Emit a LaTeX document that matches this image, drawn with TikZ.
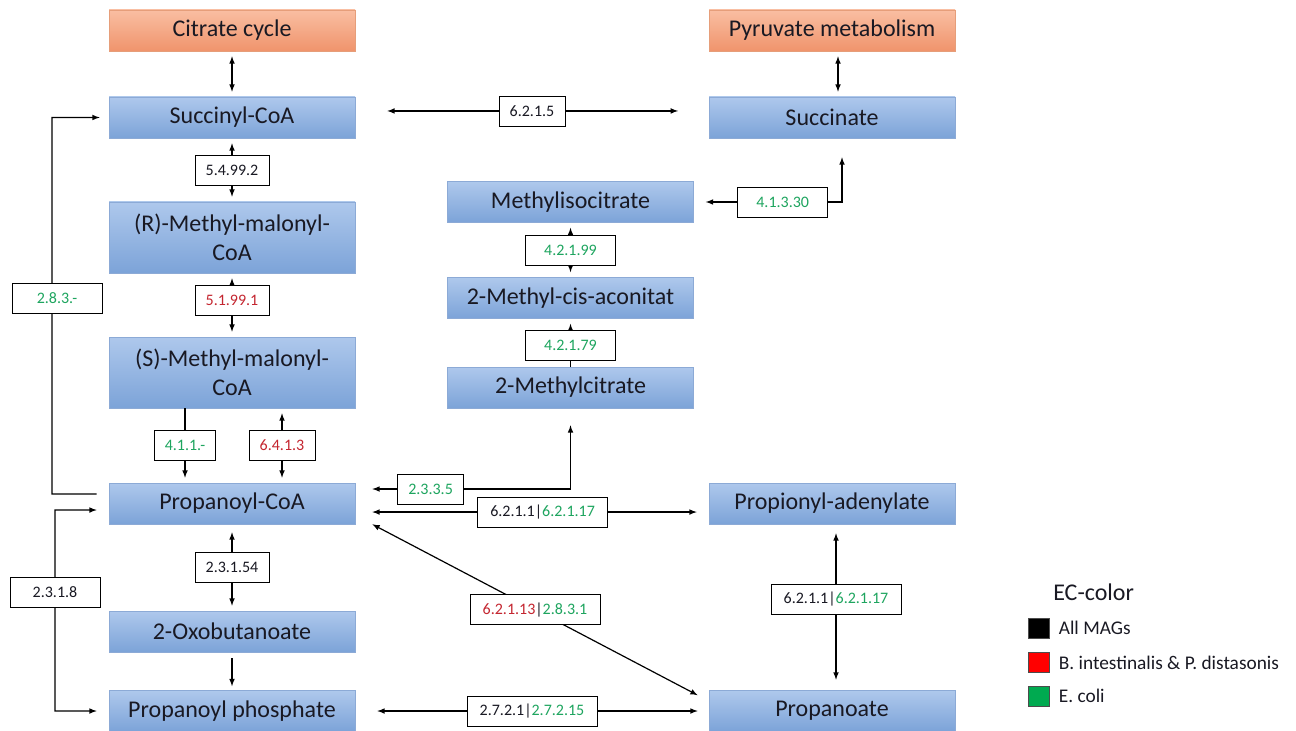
\documentclass[tikz,border=0pt]{standalone}
\usepackage{fontspec}
\setmainfont{Carlito}
\usepackage{tikz}
\usetikzlibrary{arrows,%
                shapes,positioning}

\definecolor{boxtop}{RGB}{174,200,236}
\definecolor{boxbot}{RGB}{124,163,216}
\definecolor{boxline}{RGB}{140,170,214}
\definecolor{waytop}{RGB}{249,190,162}
\definecolor{waybot}{RGB}{240,148,108}
\definecolor{wayline}{RGB}{230,158,122}
\definecolor{ecgreen}{RGB}{30,165,95}
\definecolor{ecred}{RGB}{196,38,48}
\definecolor{leggreen}{RGB}{0,170,80}
\definecolor{txt}{RGB}{25,25,35}

\begin{document}
\begin{tikzpicture}[x=0.75pt,y=-0.75pt,>=latex,
  metab/.style={draw=boxline, top color=boxtop, bottom color=boxbot, text=txt,
    minimum width=184.5pt, minimum height=30.75pt, inner sep=0pt,
    font=\fontsize{18}{22}\selectfont, align=center},
  tallbox/.style={minimum height=53.25pt},
  pway/.style={metab, draw=wayline, top color=waytop, bottom color=waybot},
  ec/.style={draw, fill=white, line width=0.6pt, text=txt, minimum height=22.5pt,
    inner xsep=8pt, inner ysep=0pt, font=\fontsize{12}{14}\selectfont},
  ecw/.style={ec, minimum width=67.5pt},
  ecl/.style={ec, minimum width=97.5pt},
  conn/.style={line width=0.9pt, shorten <=3.75pt, shorten >=3.75pt},
  legsq/.style={draw=black!70, line width=0.4pt, minimum width=15.75pt,
    minimum height=15pt, inner sep=0pt},
  legtxt/.style={inner sep=0pt, anchor=west, text=txt,
    font=\fontsize{14.5}{17}\selectfont},
  ]
\useasboundingbox (0,0) rectangle (1296,731);

% pathways and metabolites
\node[pway] (cit) at (232,30.5) {Citrate cycle};
\node[metab] (succ) at (232,117.5) {Succinyl-CoA};
\node[metab,tallbox] (rmm) at (232,237.5) {(R)-Methyl-malonyl-\\CoA};
\node[metab,tallbox] (smm) at (232,372.5) {(S)-Methyl-malonyl-\\CoA};
\node[metab] (pcoa) at (232,503.5) {Propanoyl-CoA};
\node[metab] (oxo) at (232,631.5) {2-Oxobutanoate};
\node[metab] (pphos) at (232,711) {Propanoyl phosphate};

\node[pway] (pyr) at (832,30.5) {Pyruvate metabolism};
\node[metab] (succi) at (832,117.5) {Succinate};
\node[metab] (misoc) at (570.5,202) {Methylisocitrate};
\node[metab] (acon) at (570.5,298) {2-Methyl-cis-aconitat};
\node[metab] (mcit) at (570.5,387.5) {2-Methylcitrate};
\node[metab] (padl) at (832,503.5) {Propionyl-adenylate};
\node[metab] (prop) at (832,711) {Propanoate};

% reactions
\draw[conn,<->] (cit) -- (succ);
\draw[conn,<->] ([xshift=4.5pt]pyr.south) -- ([xshift=4.5pt]succi.north);
\draw[conn,<->,shorten <=24pt,shorten >=23pt] ([yshift=4.9pt]succ.east)
  -- node[ec]{6.2.1.5} ([yshift=4.9pt]succi.west);
\draw[conn,<->] (succ) -- node[ec]{5.4.99.2} (rmm);
\draw[conn,<->] (rmm) -- node[ec,pos=0.42]{\textcolor{ecred}{5.1.99.1}} (smm);
\draw[conn,->,shorten <=0pt] (185,0 |- smm.south)
  -- node[ec]{\textcolor{ecgreen}{4.1.1.-}} (185,0 |- pcoa.north);
\draw[conn,<->] (282,0 |- smm.south)
  -- node[ec]{\textcolor{ecred}{6.4.1.3}} (282,0 |- pcoa.north);
\draw[conn,<->,shorten <=6pt] (pcoa) -- node[ec]{2.3.1.54} (oxo);
\draw[conn,->,shorten <=4.5pt,shorten >=3pt] (oxo) -- (pphos);

\draw[conn,<->,shorten <=9pt,shorten >=9pt] ([yshift=-4.9pt]pcoa.west) -- (55,510)
  -- node[ecw,pos=0.41]{2.3.1.8} (55,0 |- pphos.west) -- (pphos.west);
\draw[conn,->,shorten <=9pt,shorten >=6.75pt] ([yshift=7.1pt]pcoa.west) -- (52,494)
  -- node[ecw,pos=0.52,xshift=3.75pt]{\textcolor{ecgreen}{2.8.3.-}} (52,0 |- succ.west)
  -- (succ.west);

\draw[conn,<->,shorten <=9pt,shorten >=14.25pt] (misoc.east)
  -- node[ecw,pos=0.6]{\textcolor{ecgreen}{4.1.3.30}} (842,0 |- misoc.east)
  -- (842,0 |- succi.south);
\draw[conn,<->] (misoc) -- node[ecw]{\textcolor{ecgreen}{4.2.1.99}} (acon);
\draw[conn,->,shorten <=0pt] (mcit) -- node[ecw,pos=0.45]{\textcolor{ecgreen}{4.2.1.79}} (acon);
\draw[conn,<->,shorten <=12.75pt,shorten >=12.75pt] (mcit.south) -- (mcit.south |- 0,489)
  -- node[ec,pos=0.65]{\textcolor{ecgreen}{2.3.3.5}} (pcoa.east |- 0,489);

\draw[conn,<->,shorten <=12.75pt,shorten >=9pt] ([yshift=-6.4pt]pcoa.east)
  -- node[ecl,pos=0.53]{6.2.1.1|\textcolor{ecgreen}{6.2.1.17}} ([yshift=-6.4pt]padl.west);
\draw[conn,<->,shorten <=0pt,shorten >=0pt] ([xshift=12.75pt]pcoa.south east)
  -- node[ecl]{\textcolor{ecred}{6.2.1.13}|\textcolor{ecgreen}{2.8.3.1}}
  ([xshift=-8.25pt,yshift=-3.75pt]prop.north west);
\draw[conn,<->,shorten <=6.75pt,shorten >=7.9pt] ([xshift=3pt]padl.south)
  -- node[ecl,pos=0.45]{6.2.1.1|\textcolor{ecgreen}{6.2.1.17}} ([xshift=3pt]prop.north);
\draw[conn,<->,shorten <=16.5pt,shorten >=8.25pt] (pphos)
  -- node[ecl]{2.7.2.1|\textcolor{ecgreen}{2.7.2.15}} (prop);

% legend
\node[legtxt, font=\fontsize{18}{22}\selectfont] (lgtitle) at (1053,592) {EC-color};
\node[legsq, fill=black] (kall) at (1038.5,628) {};
\node[legsq, fill=red] (kbac) at (1038.5,662.5) {};
\node[legsq, fill=leggreen] (kcoli) at (1038.5,696) {};
\node[legtxt, right=7pt of kall] (lall) {All MAGs};
\node[legtxt, right=7pt of kbac] (lbac) {B. intestinalis \& P. distasonis};
\node[legtxt, right=7pt of kcoli] (lcoli) {E. coli};
\end{tikzpicture}
\end{document}
